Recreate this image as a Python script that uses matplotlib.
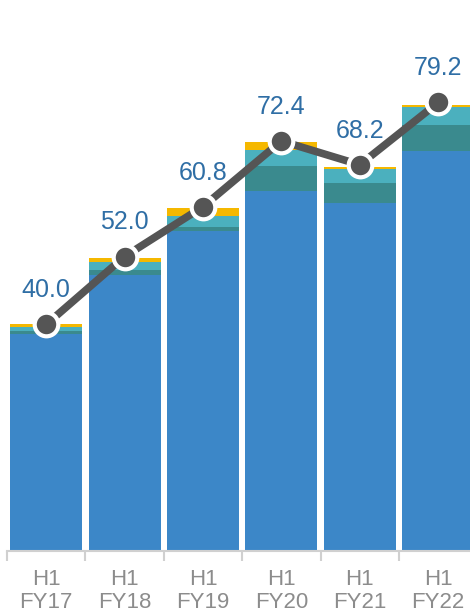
import numpy as np
import matplotlib
matplotlib.use('Agg')
import matplotlib.pyplot as plt

plt.rcParams['font.family'] = ['Liberation Sans', 'DejaVu Sans']

# 数据
periods = ['H1\nFY17', 'H1\nFY18', 'H1\nFY19', 'H1\nFY20', 'H1\nFY21', 'H1\nFY22']
blue = [38.3, 48.7, 56.5, 63.6, 61.4, 70.6]
dark_teal = [0.6, 0.9, 0.8, 4.3, 3.5, 4.7]
light_teal = [0.6, 1.4, 1.8, 2.9, 2.5, 3.1]
yellow = [0.5, 0.7, 1.4, 1.35, 0.4, 0.4]
totals = [40.0, 52.0, 60.8, 72.4, 68.2, 79.2]

colors = ['#3C87C8', '#3A8A8E', '#4BB0BE', '#F5B800']

fig = plt.figure(figsize=(4.70, 6.14), dpi=100)
W, H = 470, 614
ax = fig.add_axes([7 / W, 63 / H, 470.4 / W, 551 / H])

x = np.arange(len(periods))
bottom = np.zeros(len(periods))
for vals, c in zip([blue, dark_teal, light_teal, yellow], colors):
    ax.bar(x, vals, width=0.92, bottom=bottom, color=c, linewidth=0)
    bottom += np.array(vals)

# 折线
ax.plot(x, totals, color='#555555', lw=5.5, zorder=3, solid_capstyle='butt')
ax.plot(x, totals, 'o', ms=17, mfc='#555555', mec='white', mew=3, zorder=4)

for xi, v in zip(x, totals):
    ax.annotate(f'{v:.1f}', (xi, v), xytext=(0, 19.5), textcoords='offset points',
                ha='center', va='baseline', fontsize=18, color='#2F6EA5')

ax.set_xlim(-0.5, len(periods) - 0.5)
ax.set_ylim(0, 97.3)

for s in ['top', 'right', 'left']:
    ax.spines[s].set_visible(False)
ax.spines['bottom'].set_color('#D0D0D0')
ax.spines['bottom'].set_linewidth(1.5)
ax.set_yticks([])

ax.set_xticks(x)
ax.set_xticklabels(periods, fontsize=16, color='#8C8C8C', linespacing=1.15)
ax.tick_params(axis='x', which='major', length=0, pad=13)
ax.set_xticks(np.arange(-0.5, len(periods)), minor=True)
ax.tick_params(axis='x', which='minor', length=7, width=1.5, color='#D0D0D0')

fig.savefig('out.png', dpi=100)
